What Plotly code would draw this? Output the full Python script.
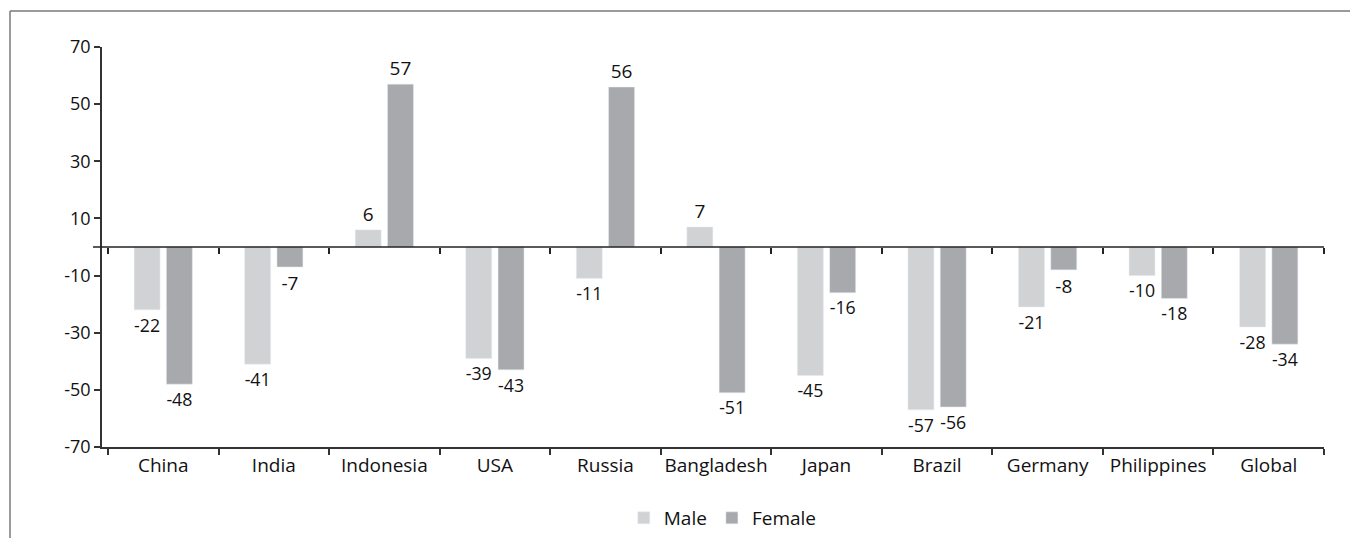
import plotly.graph_objects as go

categories = ["China", "India", "Indonesia", "USA", "Russia", "Bangladesh",
              "Japan", "Brazil", "Germany", "Philippines", "Global"]
male = [-22, -41, 6, -39, -11, 7, -45, -57, -21, -10, -28]
female = [-48, -7, 57, -43, 56, -51, -16, -56, -8, -18, -34]
y_ticks = [-70, -50, -30, -10, 10, 30, 50, 70]

# page body has an 8px margin, so the figure is drawn 8px in from the window
W, H = 1350, 530
L, R, T, B = 94, 34, 39, 91
pw, ph = W - L - R, H - T - B

FAM = "Open Sans, Noto Sans, sans-serif"
font = dict(family=FAM, size=19, color="#111")
tick_font = dict(family=FAM, size=18, color="#111")

n = len(categories)
x_range = [-0.554, n - 0.5]

fig = go.Figure()
fig.add_trace(go.Bar(name="Male", x=categories, y=male, text=[str(v) for v in male],
                     textposition="outside", marker_color="#d1d2d4",
                     textfont=font, cliponaxis=False))
fig.add_trace(go.Bar(name="Female", x=categories, y=female, text=[str(v) for v in female],
                     textposition="outside", marker_color="#a7a9ac",
                     textfont=font, cliponaxis=False))
# invisible helper trace for the zero-line category axis
fig.add_trace(go.Scatter(x=categories, y=[0] * n, xaxis="x2", yaxis="y",
                         mode="markers", marker=dict(opacity=0), showlegend=False,
                         hoverinfo="skip"))

fig.update_layout(
    width=W, height=H,
    margin=dict(l=L, r=R, t=T, b=B, autoexpand=False),
    paper_bgcolor="white", plot_bgcolor="white",
    font=font,
    barmode="group", bargap=0.416, bargroupgap=0.195,
    showlegend=True,
    legend=dict(orientation="h", x=0.508, xanchor="center", y=-0.1775, yanchor="middle",
                font=font, itemwidth=30, tracegroupgap=0),
    xaxis=dict(type="category", range=x_range, tickangle=0,
               showline=True, linecolor="#333", linewidth=1.5,
               ticks="outside", tickson="boundaries", ticklen=6, tickcolor="#333",
               tickwidth=1.5, showgrid=False, tickfont=font, automargin=False),
    xaxis2=dict(type="category", overlaying="x", anchor="free", position=0.5,
                range=x_range, tickangle=0,
                showline=False,
                ticks="outside", tickson="boundaries", ticklen=6, tickcolor="#222",
                tickwidth=1.5, showticklabels=False, showgrid=False),
    yaxis=dict(range=[-70, 70], tickvals=y_ticks, ticktext=[str(v) for v in y_ticks],
               showline=True, linecolor="#333", linewidth=1.5,
               ticks="outside", ticklen=6, tickcolor="#333", tickwidth=1.5,
               showgrid=False, zeroline=False, tickfont=tick_font, automargin=False),
)

# zero reference line (extends slightly left of the y axis)
fig.add_shape(type="line", xref="paper", yref="y", x0=-9 / pw, x1=1, y0=0, y1=0,
              line=dict(color="#222", width=1.5), layer="above")

# outer frame (top and left edges)
top_y = (H - B - 3) / ph
left_x = (2 - L) / pw
fig.add_shape(type="line", xref="paper", yref="paper", x0=left_x, x1=(W - L) / pw + 0.02,
              y0=top_y, y1=top_y, line=dict(color="#7a7a7a", width=1.5))
fig.add_shape(type="line", xref="paper", yref="paper", x0=left_x, x1=left_x,
              y0=top_y, y1=-(B + 10) / ph, line=dict(color="#7a7a7a", width=1.5))

fig.write_html("out.html")
